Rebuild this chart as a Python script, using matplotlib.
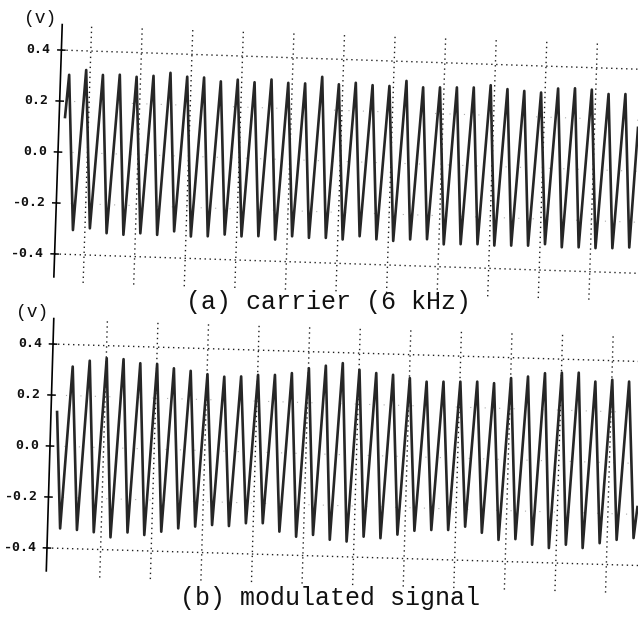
import matplotlib
matplotlib.use('Agg')
import matplotlib.pyplot as plt
import matplotlib.transforms as mtransforms
import numpy as np

# ---- data (volts, time in ms) ----
period_ms = 1 / 6.0          # 6 kHz carrier

# (a) carrier
carrier_peaks = [0.304, 0.325, 0.308, 0.311, 0.305, 0.311, 0.325, 0.312, 0.311,
                 0.298, 0.307, 0.299, 0.312, 0.301, 0.301, 0.329, 0.302, 0.310,
                 0.303, 0.302, 0.324, 0.301, 0.303, 0.305, 0.307, 0.318, 0.305,
                 0.300, 0.296, 0.314, 0.317, 0.314, 0.299, 0.301]
carrier_troughs = [-0.304, -0.295, -0.312, -0.316, -0.308, -0.312, -0.296, -0.314,
                   -0.311, -0.302, -0.307, -0.304, -0.315, -0.300, -0.304, -0.302,
                   -0.306, -0.291, -0.301, -0.305, -0.297, -0.294, -0.312, -0.309,
                   -0.307, -0.310, -0.308, -0.306, -0.298, -0.308, -0.306, -0.307,
                   -0.305, -0.300]
carrier_first_peak = 0.085
carrier_first_trough = 0.173
carrier_start = (0.058, 0.138)
carrier_end = (5.72, 0.17)

# (b) modulated signal
mod_peaks = [0.314, 0.339, 0.351, 0.349, 0.335, 0.334, 0.319, 0.311, 0.300,
             0.292, 0.295, 0.303, 0.305, 0.314, 0.335, 0.347, 0.359, 0.335,
             0.324, 0.319, 0.308, 0.296, 0.298, 0.300, 0.302, 0.298, 0.320,
             0.328, 0.343, 0.347, 0.349, 0.316, 0.325, 0.320]
mod_troughs = [-0.322, -0.326, -0.333, -0.351, -0.330, -0.338, -0.323, -0.308,
               -0.299, -0.291, -0.293, -0.280, -0.278, -0.309, -0.327, -0.318,
               -0.335, -0.340, -0.319, -0.323, -0.307, -0.290, -0.285, -0.283,
               -0.268, -0.290, -0.316, -0.311, -0.331, -0.342, -0.327, -0.338,
               -0.317, -0.302, -0.293]
mod_first_peak = 0.201
mod_first_trough = 0.124
mod_start = (0.06, 0.134)
mod_end = (5.82, -0.171)

ytick_values = [0.4, 0.2, 0.0, -0.2, -0.4]
ytick_labels = ['0.4', '0.2', '0.0', '-0.2', '-0.4']
major_rows = [0.4, -0.4]
minor_rows = [0.2, 0.0, -0.2]

W, H = 638, 617
PX_PER_MS = 101.2
PX_PER_V = 255.0

fig = plt.figure(figsize=(W / 100, H / 100), dpi=100)
fig.patch.set_facecolor('white')


def trace(first_peak, peaks, first_trough, troughs, start, end):
    tp = first_peak + period_ms * np.arange(len(peaks))
    tt = first_trough + period_ms * np.arange(len(troughs))
    t = np.concatenate([tp, tt])
    v = np.concatenate([peaks, troughs])
    order = np.argsort(t)
    t = np.concatenate([[start[0]], t[order], [end[0]]])
    v = np.concatenate([[start[1]], v[order], [end[1]]])
    return t, v


def panel(spine_x, zero_y, angle, grid_first, t, v, caption, cap_xy):
    # axes box in pixels (image coords, y down), spine at t=0, zero line at v=0
    xmax = (W - spine_x) / PX_PER_MS
    ax = fig.add_axes([spine_x / W, 1 - (zero_y + 0.5 * PX_PER_V) / H,
                       (W - spine_x) / W, PX_PER_V / H])
    ax.set_xlim(0, xmax)
    ax.set_ylim(-0.5, 0.5)
    ax.axis('off')
    # the scan is slightly rotated: rotate everything about the spine/zero point
    rot = ax.transData + mtransforms.Affine2D().rotate_deg_around(spine_x, H - zero_y, angle)

    kw = dict(transform=rot, clip_on=False)
    # dotted grid
    for r in major_rows:
        ax.plot([0, xmax + 0.3], [r, r], color='#202020', lw=1.0,
                dashes=(1, 2.6), **kw)
    for r in minor_rows:
        ax.plot([0, xmax + 0.3], [r, r], color='#b0b0b0', lw=0.8,
                dashes=(1, 12), **kw)
    for k in range(11):
        gx = grid_first + 0.5 * k
        ax.plot([gx, gx], [-0.51, 0.5], color='#202020', lw=1.0,
                dashes=(1, 2.6), **kw)
    # y axis line and ticks
    ax.plot([0, 0], [-0.49, 0.5], color='black', lw=1.2, **kw)
    for val, lab in zip(ytick_values, ytick_labels):
        ax.plot([-0.035, 0.035], [val, val], color='black', lw=1.1, **kw)
        ax.text(-0.11, val, lab, ha='right', va='center', fontsize=9.5,
                family='DejaVu Sans Mono', fontweight='bold', color='#111111',
                **kw)
    ax.text(-0.22, 0.52, '(v)', ha='center', va='center', fontsize=13,
            family='Liberation Mono', color='#111111', **kw)
    # waveform
    ax.plot(t, v, color='#262626', lw=1.9, solid_joinstyle='round', **kw)
    fig.text(cap_xy[0] / W, 1 - cap_xy[1] / H, caption, ha='center', va='center',
             fontsize=18, family='Liberation Mono', color='#111111')


ta, va_ = trace(carrier_first_peak, carrier_peaks, carrier_first_trough,
                carrier_troughs, carrier_start, carrier_end)
tb, vb = trace(mod_first_peak, mod_peaks, mod_first_trough, mod_troughs,
               mod_start, mod_end)

panel(58, 152, -1.9, 0.291, ta, va_, '(a) carrier (6 kHz)', (328, 302))
panel(50, 446, -1.7, 0.530, tb, vb, '(b) modulated signal', (330, 598))

fig.savefig('out.png', dpi=100, facecolor='white')
